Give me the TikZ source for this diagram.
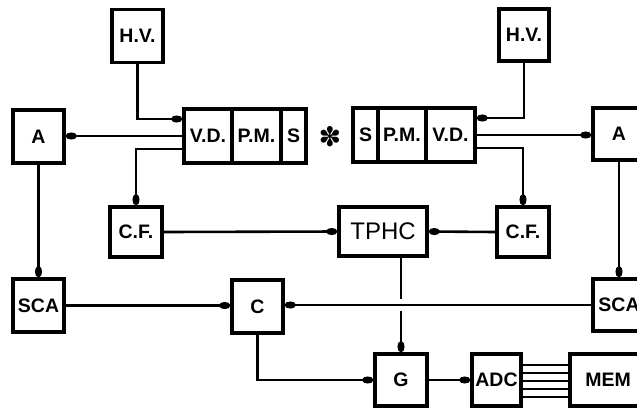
\documentclass[tikz,border=0pt]{standalone}
\usepackage{fontspec}
\setmainfont{Liberation Sans}
\newfontfamily\symfont{DejaVu Sans}
\usetikzlibrary{arrows.meta}
\begin{document}
\begin{tikzpicture}[x=1pt,y=-1pt,
  box/.style={draw,line width=3.6pt,inner sep=0pt,font=\fontsize{19.5}{22}\selectfont\bfseries},
  wire/.style={line width=2.6pt},
  tip/.style={wire,-{Ellipse[length=11pt,width=7pt]}},
]
\useasboundingbox (0,0) rectangle (637,408);
\clip (0,0) rectangle (637,408);
% top row
\node[box,minimum width=51pt,minimum height=53pt] (hvl) at (137.5,36) {H.V.};
\node[box,minimum width=50pt,minimum height=52pt] (hvr) at (524,35) {H.V.};
% A row
\node[box,minimum width=51pt,minimum height=53pt] (al) at (38.5,136.5) {A};
\node[box,minimum width=52pt,minimum height=52pt] (ar) at (619,134) {A};
\node[box,minimum width=48pt,minimum height=54pt] (vdl) at (208,136) {V.D.};
\node[box,minimum width=49pt,minimum height=54pt] (pml) at (256.5,136) {P.M.};
\node[box,minimum width=25pt,minimum height=54pt] (sl) at (293.5,136) {S};
\node[box,minimum width=25pt,minimum height=54pt] (sr) at (365.5,135) {S};
\node[box,minimum width=48pt,minimum height=54pt] (pmr) at (402,135) {P.M.};
\node[box,minimum width=49pt,minimum height=54pt] (vdr) at (450.5,135) {V.D.};
\node[font=\symfont\fontsize{27}{27}\selectfont\bfseries] (star) at (330,137) {✽};
% CF row
\node[box,minimum width=52pt,minimum height=50pt] (cfl) at (136,232) {C.F.};
\node[box,minimum width=88pt,minimum height=49pt,font=\fontsize{24}{28}\selectfont] (tphc) at (383,231.5) {TPHC};
\node[box,minimum width=52pt,minimum height=50pt] (cfr) at (523,232) {C.F.};
% SCA row
\node[box,minimum width=51pt,minimum height=53pt] (scal) at (38.5,305.5) {SCA};
\node[box,minimum width=51pt,minimum height=53pt] (c) at (257.5,306.5) {C};
\node[box,minimum width=52pt,minimum height=52pt] (scar) at (619,305) {SCA};
% bottom row
\node[box,minimum width=52pt,minimum height=52pt] (g) at (401,380) {G};
\node[box,minimum width=49pt,minimum height=52pt] (adc) at (496.5,380) {ADC};
\node[box,minimum width=76pt,minimum height=52pt] (mem) at (608,380) {MEM};
% wires left
\draw[tip] (hvl.south) |- ([yshift=17pt]vdl.west);
\draw[tip] (vdl.west) -- (vdl.west -| al.east);
\draw[tip] ([yshift=-13pt]vdl.west) -| (cfl.north);
\draw[tip] (al.south) -- (scal.north);
\draw[tip] (cfl.east) -- (tphc.west);
\draw[tip] (scal.east) -- (scal.east -| c.west);
% wires right
\draw[tip] (hvr.south) |- ([yshift=17pt]vdr.east);
\draw[tip] (vdr.east) -- (vdr.east -| ar.west);
\draw[tip] ([yshift=-13pt]vdr.east) -| (cfr.north);
\draw[tip] (ar.south) -- (scar.north);
\draw[tip] (cfr.west) -- (tphc.east);
\draw[tip] (scar.west) -- (scar.west -| c.east);
% centre
\coordinate (gapa) at (401,299);
\coordinate (gapb) at (401,311);
\draw[wire] (g.north |- tphc.south) -- (gapa);
\draw[tip] (gapb) -- (g.north);
\draw[tip] (c.south) |- (g.west);
\draw[tip] (g.east) -- (adc.west);
\foreach \d in {15,7,-1,-9,-17}
  \draw[wire] ([yshift=\d pt]adc.east) -- ([yshift=\d pt]adc.east -| mem.west);
\end{tikzpicture}
\end{document}
